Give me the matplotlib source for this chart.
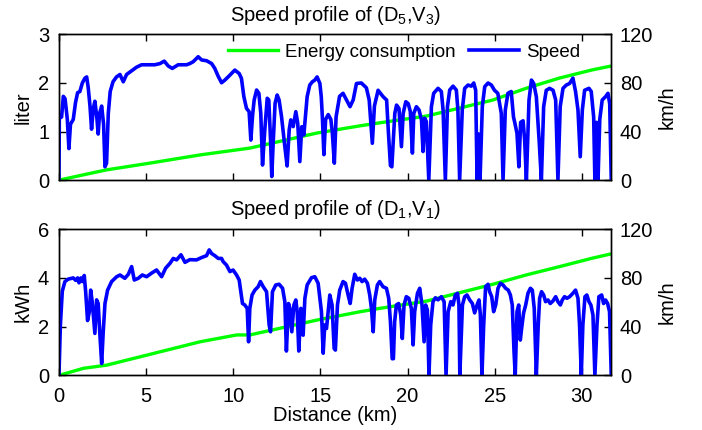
import matplotlib
matplotlib.use('Agg')
import matplotlib.pyplot as plt

plt.rcParams['font.family'] = ['Liberation Sans', 'DejaVu Sans']
plt.rcParams['mathtext.default'] = 'regular'
plt.rcParams['font.size'] = 14.5

# ---------------- data ----------------
top_title = 'Speed profile of (D$_5$,V$_3$)'
bot_title = 'Speed profile of (D$_1$,V$_1$)'

top_energy_km = [0, 1.4, 2.7, 5.2, 8.1, 10.95, 14.8, 17.3, 18.4, 21.1, 24.9, 26.8, 28.7, 30.6, 31.7]
top_energy = [0, 0.11, 0.21, 0.35, 0.52, 0.66, 0.97, 1.12, 1.18, 1.32, 1.65, 1.89, 2.10, 2.27, 2.35]

bot_energy_km = [0, 1.4, 2.73, 5.2, 8.1, 10.2, 10.95, 14.8, 17.26, 18.4, 21.1, 24.9, 26.8, 28.7, 30.6, 31.7]
bot_energy = [0, 0.29, 0.42, 0.86, 1.38, 1.66, 1.66, 2.27, 2.61, 2.75, 3.05, 3.74, 4.12, 4.46, 4.81, 4.99]

top_speed_pts = [
    [0, 0], [0.02, 51], [0.15, 52], [0.25, 69], [0.35, 67], [0.48, 50], [0.57, 26], [0.66, 46],
    [0.82, 50], [0.95, 64], [1.07, 72], [1.2, 73], [1.34, 80], [1.49, 84], [1.59, 85], [1.68, 76],
    [1.78, 61], [1.87, 42], [1.97, 59], [2.06, 65], [2.17, 52], [2.25, 38], [2.33, 55], [2.45, 61],
    [2.56, 46], [2.64, 11], [2.73, 14], [2.83, 55], [2.94, 73], [3.1, 81], [3.3, 85], [3.5, 87],
    [3.69, 81], [3.88, 87], [4.16, 90], [4.45, 93], [4.74, 95], [5.1, 95], [5.5, 95], [5.8, 96],
    [6.04, 98], [6.27, 94], [6.5, 92], [6.84, 95], [7.32, 95], [7.51, 96], [7.7, 97.5], [7.99, 101.6],
    [8.18, 99], [8.47, 98.3], [8.76, 96], [8.94, 92], [9.14, 85.4], [9.33, 80.2], [9.52, 82.4],
    [9.81, 86.5], [10.09, 90.6], [10.34, 87.8], [10.47, 83.8], [10.61, 68.7], [10.76, 59.1],
    [10.91, 56.4], [11.01, 33], [11.11, 53.6], [11.2, 66], [11.34, 74.2], [11.47, 71.5], [11.58, 55],
    [11.68, 12.5], [11.81, 41.4], [11.95, 67.4], [12.04, 66], [12.14, 33], [12.21, 3], [12.29, 30.3],
    [12.4, 63.3], [12.52, 70.1], [12.63, 66], [12.77, 52.3], [12.96, 27.6], [13.09, 11.7],
    [13.21, 41.4], [13.3, 49.6], [13.44, 44.1], [13.59, 56.4], [13.7, 46.8], [13.82, 15.3],
    [13.93, 44], [14.05, 37.2], [14.24, 68.7], [14.39, 78.3], [14.54, 81], [14.68, 82.4], [14.81, 85],
    [14.97, 79.7], [15.05, 68.7], [15.12, 50], [15.2, 21], [15.3, 50], [15.45, 54], [15.6, 50],
    [15.68, 40], [15.8, 14], [15.9, 52], [16.1, 69], [16.3, 71.5], [16.5, 66], [16.7, 60.5],
    [16.88, 66], [17.07, 79.6], [17.35, 80], [17.64, 76], [17.8, 66], [17.98, 30.4], [18.1, 61],
    [18.31, 74], [18.45, 71.5], [18.6, 68.7], [18.8, 66], [18.9, 40], [19.02, 12], [19.1, 11],
    [19.27, 55], [19.37, 61.8], [19.51, 59], [19.65, 27.6], [19.75, 55], [19.9, 64.6], [20.04, 63],
    [20.16, 56.5], [20.28, 22.3], [20.36, 55], [20.51, 60.5], [20.66, 57.8], [20.8, 49.6],
    [20.89, 23.6], [20.98, 51], [21.08, 48.2], [21.22, 0], [21.37, 60.5], [21.5, 71.5], [21.75, 75.6],
    [21.94, 73], [22.04, 57.8], [22.17, 0], [22.29, 60.5], [22.42, 74.2], [22.61, 77.4], [22.8, 74.2],
    [22.89, 57.8], [22.99, 0], [23.14, 57.8], [23.28, 75.6], [23.47, 78.3], [23.66, 77.4], [23.8, 80],
    [23.91, 74], [23.99, 0], [24.07, 38], [24.16, 0], [24.29, 60.5], [24.43, 77], [24.62, 80],
    [24.81, 78.3], [24.99, 74], [25.18, 71.5], [25.38, 55], [25.48, 0], [25.61, 57.8], [25.76, 71.5],
    [25.95, 73], [26.08, 52], [26.15, 47.6], [26.28, 38.6], [26.39, 11], [26.49, 47.6], [26.63, 48.9],
    [26.72, 33], [26.82, 0], [26.97, 66], [27.11, 82.4], [27.24, 79.6], [27.39, 68.7], [27.55, 33],
    [27.68, 0], [27.81, 60.5], [27.96, 74], [28.15, 75.6], [28.35, 74], [28.5, 66], [28.63, 0],
    [28.76, 60.5], [28.92, 75.6], [29.11, 78.3], [29.3, 79.6], [29.49, 84], [29.64, 73], [29.78, 57.8],
    [29.91, 19.3], [30.03, 57.8], [30.16, 74], [30.41, 75.6], [30.54, 73], [30.68, 52], [30.75, 0],
    [30.84, 47.6], [30.93, 0], [31.03, 50], [31.17, 66], [31.36, 68.7], [31.5, 71.5], [31.6, 63],
    [31.69, 0],
]

bot_speed_pts = [
    [0, 0], [0.08, 41], [0.19, 69], [0.34, 77], [0.53, 79], [0.82, 80], [0.96, 78], [1.07, 80],
    [1.15, 76], [1.26, 80], [1.34, 77], [1.45, 82], [1.53, 69], [1.64, 45], [1.74, 52], [1.82, 70],
    [1.91, 60], [2.06, 34.5], [2.16, 62], [2.25, 59], [2.35, 33], [2.45, 9.8], [2.54, 36], [2.64, 59],
    [2.79, 70], [3.02, 77], [3.31, 81], [3.5, 82.4], [3.78, 79.7], [3.98, 83], [4.17, 89.3],
    [4.32, 78.3], [4.55, 79.7], [4.78, 82.4], [5.03, 81], [5.3, 83.8], [5.6, 86.5], [5.89, 81],
    [6.12, 88], [6.37, 92], [6.56, 96], [6.75, 94.8], [7.0, 99], [7.23, 92.8], [7.51, 95],
    [7.89, 94.8], [8.18, 96.7], [8.47, 98.3], [8.62, 103], [8.76, 100], [8.94, 98.3], [9.14, 96],
    [9.33, 96], [9.42, 93.4], [9.61, 90.6], [9.81, 85.2], [9.99, 86.5], [10.19, 82.4], [10.34, 78.3],
    [10.42, 70], [10.53, 59], [10.66, 57.8], [10.8, 55], [10.88, 27.6], [10.95, 55], [11.08, 66],
    [11.24, 70], [11.43, 72.8], [11.56, 77], [11.72, 72.8], [11.91, 68.7], [12.06, 41.4],
    [12.14, 35.8], [12.25, 68.7], [12.44, 74.2], [12.63, 74.8], [12.83, 71.5], [12.96, 60.5],
    [13.05, 20], [13.17, 59], [13.25, 55], [13.36, 35.8], [13.48, 57.8], [13.59, 61.9], [13.67, 52.3],
    [13.76, 20], [13.88, 55], [14.01, 33], [14.11, 63.3], [14.24, 74.2], [14.49, 80.2], [14.68, 81],
    [14.87, 75.6], [15.06, 52.3], [15.16, 18.2], [15.25, 41.4], [15.35, 38.5], [15.54, 66],
    [15.67, 57.8], [15.79, 22], [15.86, 20.8], [15.98, 57.8], [16.11, 70], [16.3, 77], [16.44, 75.6],
    [16.59, 66], [16.71, 59], [16.82, 71.5], [16.97, 83], [17.12, 78.3], [17.26, 79.7], [17.39, 77],
    [17.54, 79], [17.7, 75.6], [17.83, 66], [17.93, 55], [18.03, 35.8], [18.12, 62], [18.27, 74.2],
    [18.4, 77], [18.59, 72.8], [18.79, 71.5], [18.92, 63.3], [19.02, 44], [19.12, 13.7],
    [19.19, 13.7], [19.26, 44], [19.36, 57.8], [19.49, 59], [19.61, 49.6], [19.7, 30.3], [19.8, 57.8],
    [19.93, 64.6], [20.07, 63.3], [20.22, 55], [20.32, 25], [20.41, 52.3], [20.57, 67.4], [20.7, 71.5],
    [20.83, 57.8], [20.95, 27.6], [21.04, 57.8], [21.14, 53.6], [21.23, 0], [21.33, 41.4],
    [21.46, 60.5], [21.6, 63.7], [21.75, 62], [21.94, 64.6], [22.1, 60.5], [22.21, 0], [22.33, 52.3],
    [22.48, 60.5], [22.61, 57.8], [22.74, 66], [22.87, 67.4], [22.95, 57.8], [23.0, 0], [23.15, 57.8],
    [23.28, 64.6], [23.41, 66], [23.57, 61.9], [23.72, 59], [23.85, 51.3], [23.99, 57.8], [24.1, 61.9],
    [24.18, 49.6], [24.27, 0], [24.37, 41.4], [24.48, 72.8], [24.62, 74.8], [24.71, 68.7],
    [24.83, 64.6], [24.94, 52.3], [25.06, 57.8], [25.19, 71.5], [25.33, 75.6], [25.48, 74.2],
    [25.63, 71.5], [25.78, 70], [25.9, 66], [26.01, 57.8], [26.11, 19.6], [26.18, 0], [26.28, 52.3],
    [26.38, 57.8], [26.47, 29], [26.57, 41.4], [26.66, 51.3], [26.78, 57.8], [26.91, 67.4],
    [27.05, 71.5], [27.16, 70], [27.27, 55], [27.39, 0], [27.5, 41.4], [27.58, 63.3], [27.69, 68.7],
    [27.81, 66], [27.92, 60.5], [28.06, 61.9], [28.19, 59], [28.34, 61], [28.5, 64.6], [28.63, 60.5],
    [28.77, 57.8], [28.88, 61.9], [29.01, 64.6], [29.15, 63.3], [29.3, 64.6], [29.49, 67.4],
    [29.64, 70], [29.78, 63.3], [29.87, 41.4], [29.97, 0], [30.06, 41.4], [30.18, 64.6], [30.29, 66],
    [30.41, 60.5], [30.52, 57.8], [30.64, 49.6], [30.75, 0], [30.87, 41.4], [30.98, 64.6],
    [31.14, 66], [31.25, 59], [31.36, 61.9], [31.48, 59], [31.59, 52.3], [31.69, 0],
]

x_ticks = [0, 5, 10, 15, 20, 25, 30]
speed_ticks = [0, 40, 80, 120]
top_left_ticks = [0, 1, 2, 3]
bot_left_ticks = [0, 2, 4, 6]

# ---------------- plotting ----------------
BLUE = '#0000ff'
GREEN = '#00ff00'

fig = plt.figure(figsize=(7.02, 4.30), dpi=100)
ax1 = fig.add_axes([0.084, 0.581, 0.787, 0.339])
ax2 = fig.add_axes([0.084, 0.127, 0.787, 0.340])


def draw(ax, ekm, ev, spts, lticks, lmax, llabel, title, show_x):
    tw = ax.twinx()
    g, = ax.plot(ekm, ev, color=GREEN, lw=2.4, label='Energy consumption')
    b, = tw.plot([p[0] for p in spts], [p[1] for p in spts], color=BLUE, lw=2.6,
                 label='Speed', solid_joinstyle='round')
    ax.set_xlim(0, 31.7)
    ax.set_ylim(0, lmax)
    tw.set_ylim(0, 120)
    ax.set_yticks(lticks)
    tw.set_yticks(speed_ticks)
    ax.set_xticks(x_ticks)
    ax.tick_params(axis='both', direction='in', length=5, top=True, width=1)
    ax.tick_params(axis='y', pad=7)
    ax.tick_params(axis='x', pad=8)
    tw.tick_params(direction='in', length=5, width=1, pad=6)
    if not show_x:
        ax.set_xticklabels([])
    ax.set_ylabel(llabel, labelpad=4)
    tw.set_ylabel('km/h', labelpad=3)
    ax.set_title(title, fontsize=14.5, pad=10)
    for a in (ax, tw):
        for s in a.spines.values():
            s.set_linewidth(1)
    return tw, g, b


tw1, g1, b1 = draw(ax1, top_energy_km, top_energy, top_speed_pts, top_left_ticks, 3,
                   'liter', top_title, False)
tw2, g2, b2 = draw(ax2, bot_energy_km, bot_energy, bot_speed_pts, bot_left_ticks, 6,
                   'kWh', bot_title, True)

tw1.legend([g1, b1], ['Energy consumption', 'Speed'], ncol=2, frameon=False,
           loc='center right', bbox_to_anchor=(0.943, 0.879), handlelength=2.7,
           handletextpad=0.35, columnspacing=0.7, borderaxespad=0, borderpad=0,
           fontsize=13.5)

ax2.set_xlabel('Distance (km)', labelpad=0)

fig.savefig('out.png', dpi=100)
